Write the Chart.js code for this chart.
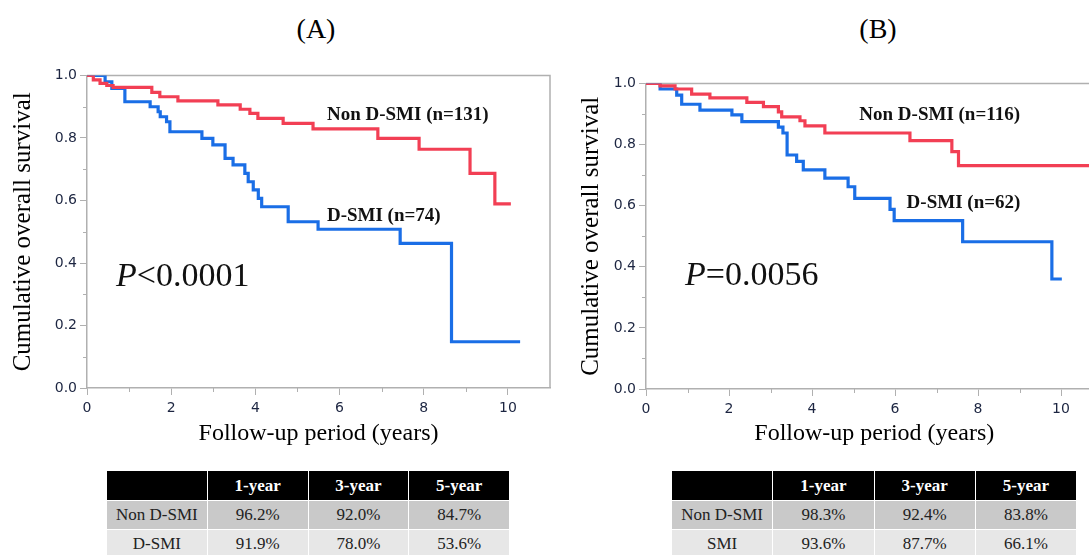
<!DOCTYPE html>
<html><head><meta charset="utf-8">
<script src="https://cdn.jsdelivr.net/npm/chart.js@4.4.1/dist/chart.umd.min.js"></script>
<style>
html,body{margin:0;padding:0;background:#fff;width:1089px;height:555px;overflow:hidden;position:relative}
.ttl{position:absolute;font-family:"Liberation Serif","Times New Roman",serif;font-size:28px;color:#000;top:13px;width:100px;text-align:center}
canvas{position:absolute}
table{position:absolute;border-collapse:collapse;font-family:"Liberation Serif","Times New Roman",serif;font-size:17px;table-layout:fixed}
td,th{border:1px solid #fff;text-align:center;padding:0;overflow:hidden;white-space:nowrap}
th{background:#000;color:#fff;font-weight:bold;height:29px}
tr.r1 td{background:#c9c9c9;height:28px;color:#222}
tr.r2 td{background:#e7e7e7;height:28px;color:#222}
</style></head>
<body>
<div class="ttl" style="left:266px">(A)</div>
<div class="ttl" style="left:828px">(B)</div>
<canvas id="cA" width="565" height="410" style="left:0;top:50px"></canvas>
<canvas id="cB" width="565" height="410" style="left:560px;top:50px"></canvas>
<table id="tA" style="left:106px;top:470px;width:404px"></table>
<table id="tB" style="left:671px;top:470px;width:406px"></table>
<script>
// ---------- data ----------
const xMaxYears = 11;
// Panel A
const timesA_non = [0, 0.15, 0.31, 0.47, 0.62, 1.54, 1.73, 2.16, 3.11, 3.64, 3.87, 4.06, 4.66, 5.37, 6.91, 7.89, 9.10, 9.69, 10.07];
const survA_non  = [1.0, 0.986, 0.975, 0.968, 0.962, 0.946, 0.932, 0.919, 0.906, 0.892, 0.879, 0.863, 0.847, 0.829, 0.799, 0.764, 0.687, 0.589, 0.589];
const timesA_dsmi = [0, 0.43, 0.59, 0.90, 1.50, 1.69, 1.74, 1.89, 1.97, 2.73, 2.99, 3.28, 3.47, 3.75, 3.83, 3.95, 4.07, 4.15, 4.78, 5.49, 7.44, 8.66, 10.29];
const survA_dsmi  = [1.0, 0.980, 0.959, 0.916, 0.900, 0.884, 0.868, 0.852, 0.820, 0.799, 0.778, 0.735, 0.714, 0.687, 0.660, 0.634, 0.607, 0.580, 0.532, 0.508, 0.463, 0.148, 0.148];
// Panel B
const timesB_non = [0, 0.34, 0.70, 1.10, 1.54, 2.43, 2.83, 3.19, 3.27, 3.71, 3.83, 4.31, 6.36, 7.37, 7.53, 10.95];
const survB_non  = [1.0, 0.992, 0.982, 0.965, 0.953, 0.938, 0.924, 0.907, 0.891, 0.878, 0.861, 0.838, 0.813, 0.777, 0.731, 0.731];
const timesB_dsmi = [0, 0.34, 0.74, 0.86, 1.30, 2.07, 2.31, 3.19, 3.30, 3.40, 3.63, 3.79, 4.31, 4.87, 5.03, 5.88, 5.98, 7.63, 9.78, 10.02];
const survB_dsmi  = [1.0, 0.982, 0.962, 0.932, 0.913, 0.897, 0.875, 0.857, 0.838, 0.766, 0.745, 0.717, 0.690, 0.662, 0.624, 0.588, 0.551, 0.482, 0.360, 0.360];
// Tables
const tableCols = ['1-year', '3-year', '5-year'];
const tableA_rows = ['Non D-SMI', 'D-SMI'];
const tableA_vals = [['96.2%', '92.0%', '84.7%'], ['91.9%', '78.0%', '53.6%']];
const tableB_rows = ['Non D-SMI', 'SMI'];
const tableB_vals = [['98.3%', '92.4%', '83.8%'], ['93.6%', '87.7%', '66.1%']];
// Labels
const labelsA = ['Non D-SMI (n=131)', 'D-SMI (n=74)'];
const labelsB = ['Non D-SMI (n=116)', 'D-SMI (n=62)'];
const pA = ['P', '<0.0001'];
const pB = ['P', '=0.0056'];
const yTitle = 'Cumulative overall survival';
const xTitle = 'Follow-up period (years)';

// ---------- tables ----------
function buildTable(id, rows, vals){
  const t = document.getElementById(id);
  let h = '<tr><th></th>' + tableCols.map(c => '<th>' + c + '</th>').join('') + '</tr>';
  rows.forEach((r, i) => {
    h += '<tr class="r' + (i + 1) + '"><td>' + r + '</td>' + vals[i].map(v => '<td>' + v + '</td>').join('') + '</tr>';
  });
  t.innerHTML = h;
}
buildTable('tA', tableA_rows, tableA_vals);
buildTable('tB', tableB_rows, tableB_vals);

// ---------- charts ----------
const RED = '#f23f54', BLUE = '#1a6ee6', AXIS = '#b0b0b0', TICK = '#1c2541';
const toPts = (ts, ss) => ts.map((t, i) => ({x: t, y: ss[i]}));

const deco = {
  id: 'deco',
  beforeDatasetsDraw(chart) {
    const {ctx, chartArea: a, scales: {x, y}} = chart;
    ctx.save();
    ctx.strokeStyle = AXIS; ctx.lineWidth = 1.5;
    ctx.beginPath();
    ctx.moveTo(a.left, a.top); ctx.lineTo(a.right, a.top); ctx.lineTo(a.right, a.bottom);
    ctx.stroke();
    ctx.lineWidth = 1;
    ctx.beginPath();
    for (let v = 1; v < xMaxYears; v += 2) {
      const px = Math.round(x.getPixelForValue(v)) + 0.5;
      ctx.moveTo(px, a.bottom); ctx.lineTo(px, a.bottom + 4);
    }
    for (let k = 1; k < 10; k += 2) {
      const py = Math.round(y.getPixelForValue(k / 10)) + 0.5;
      ctx.moveTo(a.left - 4, py); ctx.lineTo(a.left, py);
    }
    ctx.stroke();
    ctx.restore();
  },
  afterDraw(chart, args, opts) {
    const {ctx, scales: {x, y}} = chart;
    ctx.save();
    ctx.fillStyle = '#111';
    ctx.textBaseline = 'alphabetic'; ctx.textAlign = 'left';
    ctx.font = 'bold 19px "Liberation Serif", "Times New Roman", serif';
    opts.labels.forEach(l => ctx.fillText(l.text, x.getPixelForValue(l.x), y.getPixelForValue(l.y)));
    const p = opts.p;
    let px = x.getPixelForValue(p.x); const py = y.getPixelForValue(p.y);
    ctx.font = 'italic 34px "Liberation Serif", "Times New Roman", serif';
    ctx.fillText(p.parts[0], px, py);
    px += ctx.measureText(p.parts[0]).width;
    ctx.font = '34px "Liberation Serif", "Times New Roman", serif';
    ctx.fillText(p.parts[1], px, py);
    ctx.restore();
  }
};

function makeChart(id, nonPts, dsmiPts, cfg) {
  return new Chart(document.getElementById(id), {
    type: 'line',
    data: {
      datasets: [
        {data: nonPts, borderColor: RED, borderWidth: 3.2, pointRadius: 0, stepped: true, fill: false},
        {data: dsmiPts, borderColor: BLUE, borderWidth: 3.2, pointRadius: 0, stepped: true, fill: false}
      ]
    },
    options: {
      responsive: false, animation: false, devicePixelRatio: 1,
      layout: {padding: cfg.pad},
      plugins: {legend: {display: false}, tooltip: {enabled: false},
        deco: {labels: cfg.labels, p: cfg.p}},
      scales: {
        x: {
          type: 'linear', min: 0, max: xMaxYears,
          border: {display: true, color: AXIS, width: 1.5},
          grid: {drawOnChartArea: false, drawTicks: true, tickLength: 7, color: AXIS},
          ticks: {stepSize: 2, includeBounds: false, padding: 5, color: TICK, maxRotation: 0,
            font: {family: '"DejaVu Sans", Verdana, sans-serif', size: 14}},
          title: {display: true, text: xTitle, color: '#000', padding: {top: 0, bottom: 11.6},
            font: {family: '"Liberation Serif", "Times New Roman", serif', size: 24}},
          afterFit: s => { s.height = cfg.xh; }
        },
        y: {
          min: 0, max: 1,
          border: {display: true, color: AXIS, width: 1.5},
          grid: {drawOnChartArea: false, drawTicks: true, tickLength: 7, color: AXIS},
          ticks: {stepSize: 0.2, padding: 3, color: TICK,
            callback: v => v.toFixed(1),
            font: {family: '"DejaVu Sans", Verdana, sans-serif', size: 14}},
          title: {display: true, text: yTitle, color: '#000', padding: {top: cfg.ytp, bottom: 0},
            font: {family: '"Liberation Serif", "Times New Roman", serif', size: 25}},
          afterFit: s => { s.width = cfg.yw; }
        }
      }
    },
    plugins: [deco]
  });
}

makeChart('cA', toPts(timesA_non, survA_non), toPts(timesA_dsmi, survA_dsmi), {
  pad: {top: 25.5, right: 15, left: 0, bottom: 0}, xh: 72, yw: 87, ytp: 8,
  labels: [{text: labelsA[0], x: 5.70, y: 0.858}, {text: labelsA[1], x: 5.70, y: 0.534}],
  p: {parts: pA, x: 0.69, y: 0.326}
});
makeChart('cB', toPts(timesB_non, survB_non), toPts(timesB_dsmi, survB_dsmi), {
  pad: {top: 33.5, right: 22.5, left: 0, bottom: 0}, xh: 71, yw: 86, ytp: 16,
  labels: [{text: labelsB[0], x: 5.14, y: 0.881}, {text: labelsB[1], x: 6.28, y: 0.592}],
  p: {parts: pB, x: 0.94, y: 0.340}
});
</script>
</body></html>
